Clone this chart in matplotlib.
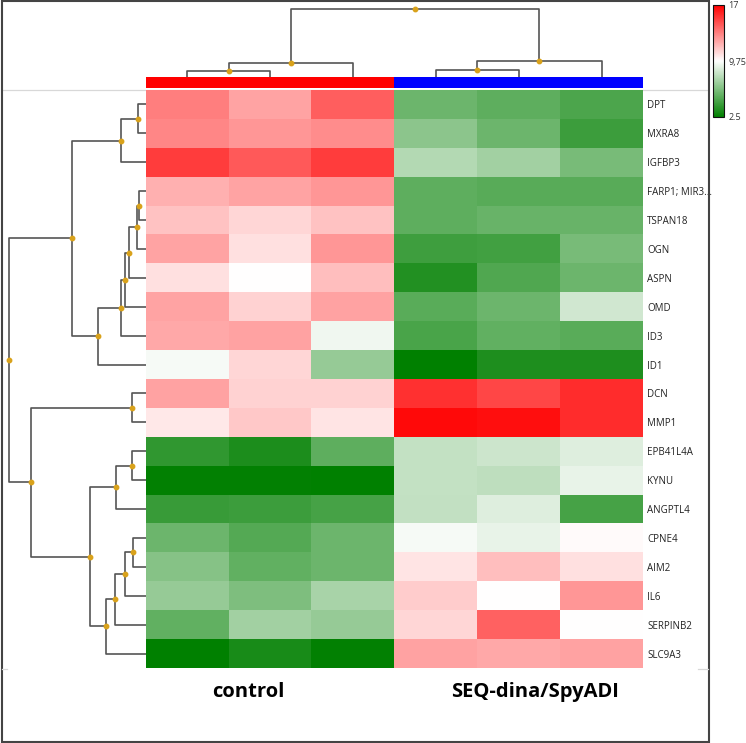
import matplotlib
matplotlib.use("Agg")
import matplotlib.pyplot as plt
import numpy as np
from matplotlib.colors import LinearSegmentedColormap, ListedColormap
from matplotlib.patches import Rectangle

plt.rcParams['font.family'] = ['Open Sans', 'DejaVu Sans']

genes = ['DPT', 'MXRA8', 'IGFBP3', 'FARP1; MIR3...', 'TSPAN18', 'OGN', 'ASPN',
         'OMD', 'ID3', 'ID1', 'DCN', 'MMP1', 'EPB41L4A', 'KYNU', 'ANGPTL4',
         'CPNE4', 'AIM2', 'IL6', 'SERPINB2', 'SLC9A3']
groups = ['control', 'SEQ-dina/SpyADI']
sample_group = [0, 0, 0, 1, 1, 1]

# expression values (rows = genes, cols = 3 control + 3 treated)
values = np.array([
    [13.4, 12.3, 14.3, 5.6, 5.2, 4.7],
    [13.2, 12.7, 13.0, 6.5, 5.6, 4.2],
    [15.3, 14.4, 15.3, 7.6, 7.1, 5.9],
    [12.0, 12.3, 12.7, 5.2, 5.0, 5.0],
    [11.5, 10.9, 11.5, 5.2, 5.5, 5.5],
    [12.3, 10.6, 12.7, 4.3, 4.4, 5.9],
    [10.6, 9.8, 11.6, 3.5, 4.8, 5.6],
    [12.3, 11.0, 12.4, 5.1, 5.6, 8.4],
    [12.2, 12.4, 9.3, 4.6, 5.3, 5.1],
    [9.5, 10.9, 6.8, 2.5, 3.4, 3.4],
    [12.4, 11.0, 11.0, 15.6, 15.0, 15.7],
    [10.4, 11.3, 10.5, 16.7, 16.6, 15.7],
    [3.9, 3.3, 5.2, 8.1, 8.3, 8.8],
    [2.6, 2.6, 2.5, 8.1, 7.9, 9.1],
    [4.1, 4.2, 4.5, 8.0, 8.8, 4.5],
    [5.6, 4.9, 5.6, 9.5, 9.1, 9.9],
    [6.3, 5.3, 5.6, 10.5, 11.6, 10.6],
    [6.8, 6.1, 7.3, 11.2, 9.8, 12.7],
    [5.3, 7.1, 6.8, 10.9, 14.2, 9.8],
    [2.5, 3.2, 2.6, 12.4, 12.2, 12.4],
])

# linkage: (child a, child b, height); ids >= n are merged nodes
row_links = [(0, 1, 8), (20, 2, 25), (3, 4, 7), (22, 5, 9), (23, 6, 17),
             (24, 7, 21), (25, 8, 25), (26, 9, 48), (21, 27, 74),
             (10, 11, 14), (12, 13, 14), (30, 14, 30), (15, 16, 13),
             (32, 17, 21), (33, 18, 31), (34, 19, 40), (31, 35, 56),
             (29, 36, 115), (28, 37, 137)]
col_links = [(0, 1, 6), (6, 2, 14), (3, 4, 7), (8, 5, 16), (7, 9, 68)]

W, H = 746, 743
fig = plt.figure(figsize=(W / 100, H / 100), dpi=100)


def px_axes(x0, y0, x1, y1):
    return fig.add_axes([x0 / W, 1 - y1 / H, (x1 - x0) / W, (y1 - y0) / H])


def draw_dendro(ax, links, n, vertical):
    pos = {i: float(i) for i in range(n)}
    hgt = {i: 0.0 for i in range(n)}
    for k, (a, b, h) in enumerate(links):
        xs = [hgt[a], h, h, hgt[b]]
        ys = [pos[a], pos[a], pos[b], pos[b]]
        if vertical:
            xs, ys = ys, xs
        ax.plot(xs, ys, color='#555555', lw=1.2, solid_capstyle='butt')
        mid = (pos[a] + pos[b]) / 2
        pos[n + k] = mid
        hgt[n + k] = h
        if vertical:
            ax.plot(mid, h, 'o', color='#D9A21B', ms=3.2, zorder=3)
        else:
            ax.plot(h, mid, 'o', color='#D9A21B', ms=3.2, zorder=3)
    ax.axis('off')


cmap = LinearSegmentedColormap.from_list('gwr', ['#008000', '#ffffff', '#ff0000'])

# heatmap
ax = px_axes(146, 90, 643, 668)
im = ax.imshow(values, cmap=cmap, vmin=2.5, vmax=17, aspect='auto',
               interpolation='nearest')
ax.set_xticks([])
ax.set_yticks(range(len(genes)))
ax.set_yticklabels(genes, fontsize=7, color='#222222')
ax.yaxis.tick_right()
ax.tick_params(axis='y', length=0, pad=3)
for s in ax.spines.values():
    s.set_visible(False)

# group bar
axg = px_axes(146, 77, 643, 88)
axg.imshow([sample_group], cmap=ListedColormap(['#ff0000', '#0000ff']),
           aspect='auto', interpolation='nearest')
axg.axis('off')

# top dendrogram
axt = px_axes(146, 0, 643, 77)
draw_dendro(axt, col_links, 6, vertical=True)
axt.set_xlim(-0.5, 5.5)
axt.set_ylim(0, 77)

# left dendrogram
axl = px_axes(0, 90, 146, 668)
draw_dendro(axl, row_links, 20, vertical=False)
axl.set_xlim(146, 0)
axl.set_ylim(19.5, -0.5)

# group labels
fig.text(248 / W, 1 - 692 / H, groups[0], ha='center', va='center',
         fontsize=14.5, fontweight='bold')
fig.text(535 / W, 1 - 692 / H, groups[1], ha='center', va='center',
         fontsize=14.5, fontweight='bold')

# colour scale
cax = px_axes(713, 5, 724, 117)
cb = fig.colorbar(im, cax=cax, ticks=[2.5, 9.75, 17])
cb.ax.set_yticklabels(['2.5', '9,75', '17'], fontsize=6.5, color='#333333')
cb.ax.tick_params(length=0, pad=3)
cb.outline.set_edgecolor('#111111')
cb.outline.set_linewidth(0.8)

# frame and separator lines
fig.add_artist(Rectangle((1.5 / W, 1 - 742 / H), 707.5 / W, 741 / H,
                         transform=fig.transFigure, fill=False,
                         edgecolor='#444444', lw=1.5))
fig.add_artist(plt.Line2D([2 / W, 708 / W], [1 - 90 / H, 1 - 90 / H],
                          transform=fig.transFigure, color='#d8d8d8', lw=0.9,
                          zorder=0))
for xa, xb in [(2, 7), (698, 708)]:
    fig.add_artist(plt.Line2D([xa / W, xb / W], [1 - 669 / H, 1 - 669 / H],
                              transform=fig.transFigure, color='#d8d8d8',
                              lw=0.9))

fig.savefig('out.png', dpi=100)
